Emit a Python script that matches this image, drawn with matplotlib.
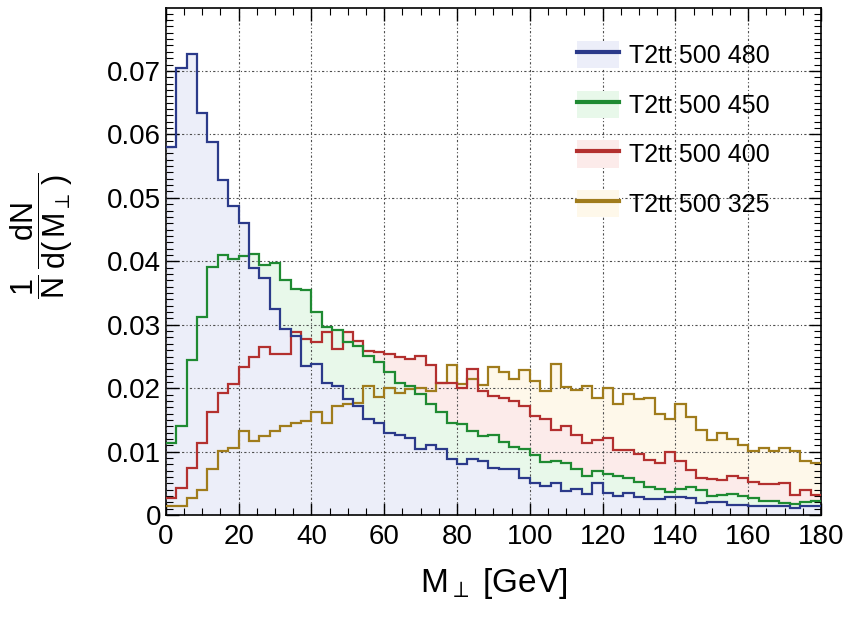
import numpy as np
import matplotlib
matplotlib.use("Agg")
import matplotlib.pyplot as plt
from matplotlib.patches import Patch
from matplotlib.lines import Line2D
from matplotlib.ticker import MultipleLocator, FuncFormatter

plt.rcParams['font.family'] = ['Liberation Sans', 'DejaVu Sans']
plt.rcParams['mathtext.fontset'] = 'custom'
plt.rcParams['mathtext.rm'] = 'Liberation Sans'
plt.rcParams['mathtext.it'] = 'Liberation Sans'
plt.rcParams['mathtext.default'] = 'regular'

# M_perp distributions, 63 bins of 20/7 GeV between 0 and 180 GeV
labels = ["T2tt 500 480", "T2tt 500 450", "T2tt 500 400", "T2tt 500 325"]

h480 = [0.0580, 0.0705, 0.0727, 0.0633, 0.0588, 0.0528, 0.0487, 0.0460, 0.0390, 0.0373,
        0.0325, 0.0294, 0.0283, 0.0235, 0.0238, 0.0209, 0.0204, 0.0183, 0.0172, 0.0151,
        0.0146, 0.0130, 0.0127, 0.0122, 0.0104, 0.0111, 0.0105, 0.0088, 0.0080, 0.0088,
        0.0085, 0.0075, 0.0072, 0.0072, 0.0058, 0.0050, 0.0046, 0.0051, 0.0038, 0.0042,
        0.0034, 0.0050, 0.0035, 0.0031, 0.0035, 0.0029, 0.0026, 0.0026, 0.0028, 0.0028,
        0.0027, 0.0019, 0.0021, 0.0021, 0.0016, 0.0016, 0.0014, 0.0014, 0.0014, 0.0014,
        0.0011, 0.0014, 0.0014]
h450 = [0.0114, 0.0140, 0.0244, 0.0312, 0.0391, 0.0410, 0.0404, 0.0409, 0.0411, 0.0394,
        0.0398, 0.0370, 0.0357, 0.0354, 0.0320, 0.0296, 0.0291, 0.0273, 0.0267, 0.0251,
        0.0241, 0.0225, 0.0209, 0.0204, 0.0191, 0.0175, 0.0162, 0.0146, 0.0143, 0.0133,
        0.0125, 0.0126, 0.0115, 0.0107, 0.0104, 0.0095, 0.0084, 0.0086, 0.0082, 0.0072,
        0.0062, 0.0069, 0.0065, 0.0061, 0.0058, 0.0053, 0.0045, 0.0041, 0.0037, 0.0041,
        0.0044, 0.0040, 0.0031, 0.0032, 0.0034, 0.0030, 0.0027, 0.0022, 0.0022, 0.0019,
        0.0017, 0.0021, 0.0022]
h400 = [0.0027, 0.0043, 0.0074, 0.0114, 0.0162, 0.0193, 0.0207, 0.0233, 0.0250, 0.0265,
        0.0254, 0.0254, 0.0288, 0.0278, 0.0273, 0.0288, 0.0262, 0.0288, 0.0275, 0.0259,
        0.0257, 0.0254, 0.0249, 0.0246, 0.0251, 0.0236, 0.0209, 0.0209, 0.0201, 0.0230,
        0.0196, 0.0188, 0.0185, 0.0180, 0.0172, 0.0156, 0.0151, 0.0135, 0.0141, 0.0127,
        0.0114, 0.0118, 0.0122, 0.0102, 0.0103, 0.0096, 0.0087, 0.0082, 0.0099, 0.0085,
        0.0071, 0.0059, 0.0057, 0.0056, 0.0061, 0.0058, 0.0052, 0.0049, 0.0049, 0.0050,
        0.0032, 0.0040, 0.0032]
h325 = [0.0015, 0.0015, 0.0027, 0.0040, 0.0073, 0.0101, 0.0106, 0.0133, 0.0117, 0.0125,
        0.0133, 0.0140, 0.0146, 0.0148, 0.0162, 0.0146, 0.0172, 0.0175, 0.0177, 0.0204,
        0.0186, 0.0201, 0.0193, 0.0199, 0.0201, 0.0196, 0.0209, 0.0236, 0.0207, 0.0215,
        0.0205, 0.0233, 0.0225, 0.0214, 0.0228, 0.0212, 0.0195, 0.0238, 0.0202, 0.0197,
        0.0204, 0.0185, 0.0200, 0.0175, 0.0191, 0.0183, 0.0185, 0.0159, 0.0151, 0.0175,
        0.0155, 0.0134, 0.0118, 0.0130, 0.0120, 0.0111, 0.0101, 0.0106, 0.0101, 0.0106,
        0.0101, 0.0085, 0.0082]

hists = [h480, h450, h400, h325]
line_colors = ["#2b3a8a", "#1f8a32", "#b3302f", "#a07c1c"]
fill_colors = ["#eceef9", "#e8f8ea", "#fcebea", "#fef8ea"]

edges = np.linspace(0, 180, 64)

fig = plt.figure(figsize=(8.5, 6.17), dpi=100)
ax = fig.add_axes([0.195, 0.165, 0.771, 0.822])

# fills back to front, then outlines on top
for h, fc in zip(hists[::-1], fill_colors[::-1]):
    ax.stairs(h, edges, fill=True, color=fc, zorder=1)
for h, lc in zip(hists[::-1], line_colors[::-1]):
    ax.stairs(h, edges, baseline=None, color=lc, lw=1.6, zorder=3)

ax.set_xlim(0, 180)
ax.set_ylim(0, 0.0799)
ax.set_axisbelow(False)

ax.xaxis.set_major_locator(MultipleLocator(20))
ax.xaxis.set_minor_locator(MultipleLocator(5))
ax.yaxis.set_major_locator(MultipleLocator(0.01))
ax.yaxis.set_minor_locator(MultipleLocator(0.001))
ax.yaxis.set_major_formatter(FuncFormatter(lambda v, p: "0" if abs(v) < 1e-9 else f"{v:.2f}"))

ax.tick_params(which='both', direction='in', top=True, right=True, labelsize=20)
ax.tick_params(which='major', length=9, width=1.0)
ax.tick_params(which='minor', length=5, width=0.8)
ax.tick_params(axis='x', pad=6)
for s in ax.spines.values():
    s.set_linewidth(1.2)

ax.grid(True, which='major', color='0.3', linestyle=(0, (2, 2, 1, 2)), lw=0.8)

ax.set_xlabel(r"$M_{\perp}$ [GeV]", fontsize=24, labelpad=12)
ax.set_ylabel(r"$\dfrac{1}{N}\,\dfrac{dN}{d(\,M_{\perp}\,)}$", fontsize=22)
ax.yaxis.set_label_coords(-0.138, 0.55)

handles = [(Patch(facecolor=fc, edgecolor='none'), Line2D([], [], color=lc, lw=3))
           for fc, lc in zip(fill_colors, line_colors)]
ax.legend(handles, labels, loc='upper left', bbox_to_anchor=(0.627, 0.935),
          frameon=False, fontsize=18, handlelength=1.7, handleheight=1.3,
          handletextpad=0.4, labelspacing=0.9, borderpad=0, borderaxespad=0)

fig.savefig("out.png", dpi=100)
